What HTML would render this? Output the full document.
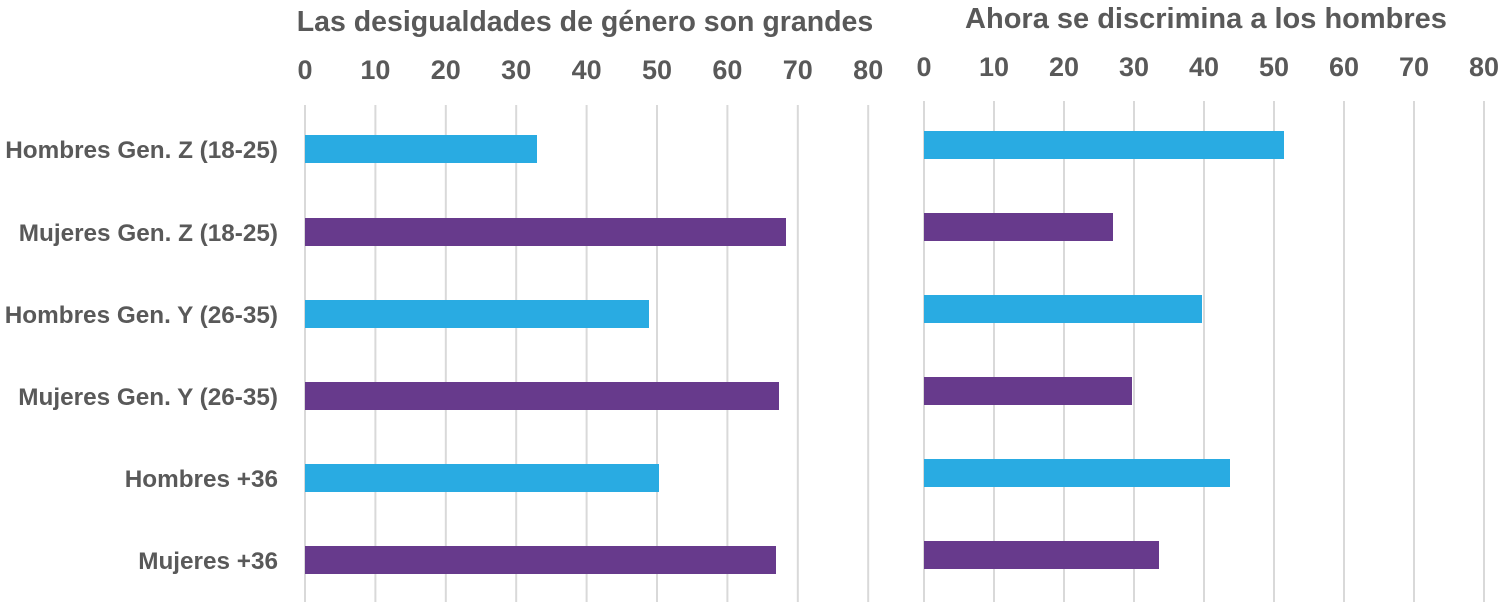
<!DOCTYPE html>
<html><head><meta charset="utf-8"><style>
body{margin:0;background:#fff;}
svg{display:block;font-family:"Liberation Sans",sans-serif;font-weight:bold;fill:#595959}
</style></head><body>
<svg width="1500" height="606" viewBox="0 0 1500 606">
<g stroke="#d9d9d9" stroke-width="2">
<line x1="305" y1="105" x2="305" y2="602"/><line x1="375.4" y1="105" x2="375.4" y2="602"/><line x1="445.8" y1="105" x2="445.8" y2="602"/><line x1="516.2" y1="105" x2="516.2" y2="602"/><line x1="586.6" y1="105" x2="586.6" y2="602"/><line x1="657" y1="105" x2="657" y2="602"/><line x1="727.4" y1="105" x2="727.4" y2="602"/><line x1="797.8" y1="105" x2="797.8" y2="602"/><line x1="868.2" y1="105" x2="868.2" y2="602"/>
<line x1="924" y1="101" x2="924" y2="602"/><line x1="994" y1="101" x2="994" y2="602"/><line x1="1064" y1="101" x2="1064" y2="602"/><line x1="1134" y1="101" x2="1134" y2="602"/><line x1="1204" y1="101" x2="1204" y2="602"/><line x1="1274" y1="101" x2="1274" y2="602"/><line x1="1344" y1="101" x2="1344" y2="602"/><line x1="1414" y1="101" x2="1414" y2="602"/><line x1="1484" y1="101" x2="1484" y2="602"/>
</g>
<g font-size="28.5"><text x="585" y="31" text-anchor="middle">Las desigualdades de género son grandes</text>
<text x="1206" y="28" text-anchor="middle" font-size="29">Ahora se discrimina a los hombres</text></g>
<g font-size="27" text-anchor="middle">
<text x="305" y="79">0</text><text x="375.4" y="79">10</text><text x="445.8" y="79">20</text><text x="516.2" y="79">30</text><text x="586.6" y="79">40</text><text x="657" y="79">50</text><text x="727.4" y="79">60</text><text x="797.8" y="79">70</text><text x="868.2" y="79">80</text>
<text x="924" y="76">0</text><text x="994" y="76">10</text><text x="1064" y="76">20</text><text x="1134" y="76">30</text><text x="1204" y="76">40</text><text x="1274" y="76">50</text><text x="1344" y="76">60</text><text x="1414" y="76">70</text><text x="1484" y="76">80</text>
</g>
<g font-size="24.3" text-anchor="end">
<text x="278" y="158">Hombres Gen. Z (18-25)</text>
<text x="278" y="241">Mujeres Gen. Z (18-25)</text>
<text x="278" y="323">Hombres Gen. Y (26-35)</text>
<text x="278" y="405">Mujeres Gen. Y (26-35)</text>
<text x="278" y="487">Hombres +36</text>
<text x="278" y="569">Mujeres +36</text>
</g>
<g>
<rect x="305" y="135" width="232" height="28" fill="#29ABE2"/>
<rect x="305" y="218" width="481" height="28" fill="#673A8C"/>
<rect x="305" y="300" width="344" height="28" fill="#29ABE2"/>
<rect x="305" y="382" width="474" height="28" fill="#673A8C"/>
<rect x="305" y="464" width="354" height="28" fill="#29ABE2"/>
<rect x="305" y="546" width="471" height="28" fill="#673A8C"/>
<rect x="924" y="131" width="360" height="28" fill="#29ABE2"/>
<rect x="924" y="213" width="189" height="28" fill="#673A8C"/>
<rect x="924" y="295" width="278" height="28" fill="#29ABE2"/>
<rect x="924" y="377" width="208" height="28" fill="#673A8C"/>
<rect x="924" y="459" width="306" height="28" fill="#29ABE2"/>
<rect x="924" y="541" width="235" height="28" fill="#673A8C"/>
</g>
</svg>
</body></html>
